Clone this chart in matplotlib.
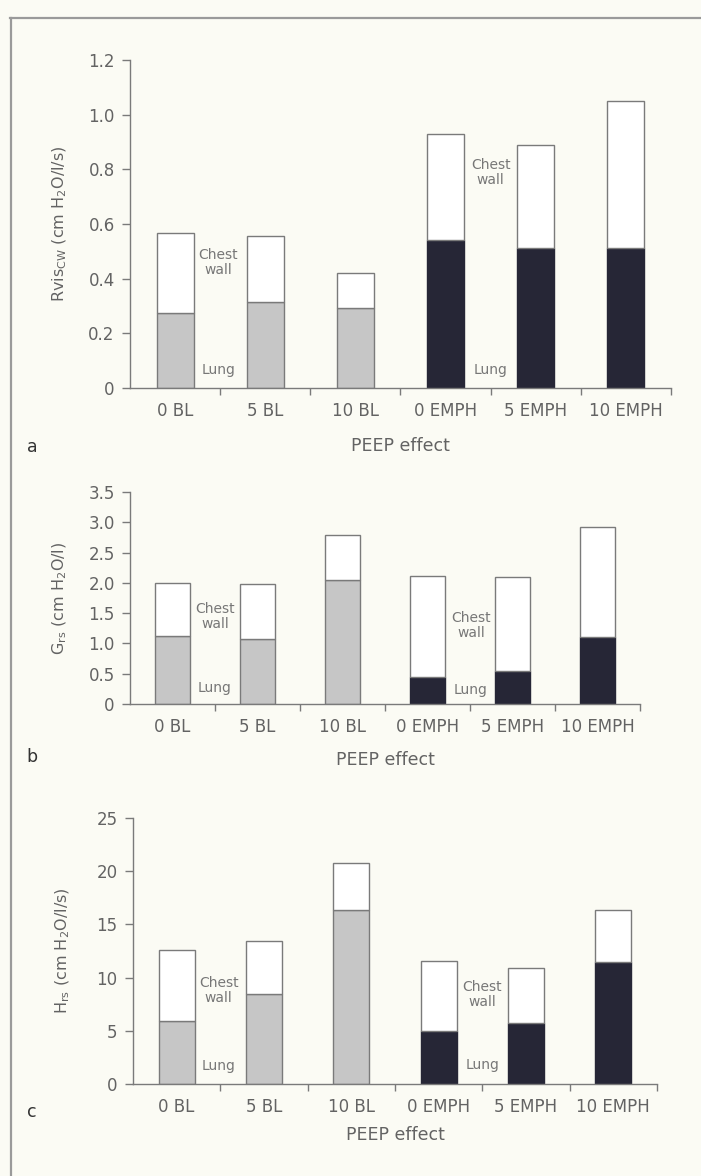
import matplotlib
matplotlib.use("Agg")
import matplotlib.pyplot as plt
from matplotlib.lines import Line2D
import numpy as np

plt.rcParams['font.family'] = ['DejaVu Sans']

# ---------------- data ----------------
categories = ["0 BL", "5 BL", "10 BL", "0 EMPH", "5 EMPH", "10 EMPH"]
is_emph = [False, False, False, True, True, True]

# panel a: Rvis_CW
a_lung  = [0.275, 0.315, 0.293, 0.542, 0.513, 0.513]
a_total = [0.568, 0.557, 0.420, 0.930, 0.890, 1.050]
a_ticks = [0, 0.2, 0.4, 0.6, 0.8, 1.0, 1.2]
a_ticklabels = ["0", "0.2", "0.4", "0.6", "0.8", "1.0", "1.2"]

# panel b: G_rs
b_lung  = [1.12, 1.07, 2.05, 0.45, 0.54, 1.10]
b_total = [2.00, 1.98, 2.79, 2.11, 2.09, 2.92]
b_ticks = [0, 0.5, 1.0, 1.5, 2.0, 2.5, 3.0, 3.5]
b_ticklabels = ["0", "0.5", "1.0", "1.5", "2.0", "2.5", "3.0", "3.5"]

# panel c: H_rs
c_lung  = [5.9, 8.5, 16.4, 5.0, 5.7, 11.5]
c_total = [12.6, 13.4, 20.8, 11.6, 10.9, 16.4]
c_ticks = [0, 5, 10, 15, 20, 25]
c_ticklabels = ["0", "5", "10", "15", "20", "25"]

# ---------------- style ----------------
BG = "#fbfbf4"
TXT = "#636363"
ANN = "#777777"
EDGE = "#7a7a7a"
GRAY = "#c6c6c6"
DARK = "#262636"

fig = plt.figure(figsize=(7.01, 11.76), dpi=100, facecolor=BG)
W, H = 701, 1176

def px_axes(left, right, top, bottom):
    return fig.add_axes([left / W, 1 - bottom / H, (right - left) / W, (bottom - top) / H])

panels = [
    dict(box=(130, 671, 60, 388), lung=a_lung, total=a_total, ticks=a_ticks,
         tl=a_ticklabels, ylabel=r"Rvis$_{\rm CW}$ (cm H$_2$O/l/s)", letter="a",
         ylab_x=60, xlab_y=446, let_y=447,
         ann=[(0.48, 0.46, 0.48, 0.066), (3.5, 0.79, 3.5, 0.066)]),
    dict(box=(130, 640, 492, 704), lung=b_lung, total=b_total, ticks=b_ticks,
         tl=b_ticklabels, ylabel=r"G$_{\rm rs}$ (cm H$_2$O/l)", letter="b",
         ylab_x=60, xlab_y=760, let_y=757,
         ann=[(0.5, 1.44, 0.5, 0.26), (3.51, 1.30, 3.51, 0.23)]),
    dict(box=(133, 657, 818, 1084), lung=c_lung, total=c_total, ticks=c_ticks,
         tl=c_ticklabels, ylabel=r"H$_{\rm rs}$ (cm H$_2$O/l/s)", letter="c",
         ylab_x=63, xlab_y=1135, let_y=1112,
         ann=[(0.48, 8.8, 0.48, 1.7), (3.5, 8.4, 3.5, 1.8)]),
]

x = np.arange(len(categories))
for p in panels:
    l, r, t, b = p["box"]
    ax = px_axes(l, r, t, b)
    ax.set_facecolor(BG)
    lung = np.array(p["lung"])
    total = np.array(p["total"])
    colors = [DARK if e else GRAY for e in is_emph]
    ax.bar(x, lung, width=0.41, color=colors, edgecolor=[DARK if e else EDGE for e in is_emph],
           linewidth=1.0, zorder=2)
    ax.bar(x, total - lung, bottom=lung, width=0.41, color="white", edgecolor=EDGE,
           linewidth=1.0, zorder=2)
    ax.set_xlim(-0.5, 5.5)
    ax.set_ylim(0, p["ticks"][-1])
    ax.set_yticks(p["ticks"])
    ax.set_yticklabels(p["tl"])
    ax.set_xticks(x)
    ax.set_xticklabels(categories)
    ax.set_xticks(np.arange(0.5, 6.0, 1.0), minor=True)
    ax.tick_params(axis="x", which="major", length=0, pad=10, labelsize=12, labelcolor=TXT)
    ax.tick_params(axis="x", which="minor", length=5, width=1, color=EDGE, direction="out")
    ax.tick_params(axis="y", length=6, width=1, color=EDGE, pad=5, labelsize=12, labelcolor=TXT)
    for s in ["top", "right"]:
        ax.spines[s].set_visible(False)
    for s in ["left", "bottom"]:
        ax.spines[s].set_color(EDGE)
        ax.spines[s].set_linewidth(1.0)
    ax.set_ylabel(p["ylabel"], fontsize=11.5, color=TXT, va="center")
    ax.yaxis.set_label_coords((p["ylab_x"] - l) / (r - l), 0.5)
    ax.set_xlabel("PEEP effect", fontsize=12.5, color=TXT, va="center")
    ax.xaxis.set_label_coords(0.5, -(p["xlab_y"] - b) / (b - t))
    for (cx, cy, lx, ly) in p["ann"]:
        ax.text(cx, cy, "Chest\nwall", ha="center", va="center", fontsize=10,
                color=ANN, linespacing=1.1, zorder=3)
        ax.text(lx, ly, "Lung", ha="center", va="center", fontsize=10, color=ANN, zorder=3)
    fig.text(32 / W, 1 - p["let_y"] / H, p["letter"], fontsize=12.5, color="#333333",
             ha="center", va="center")

# page frame lines (top and left)
fig.add_artist(Line2D([10 / W, 1.0], [1 - 18 / H, 1 - 18 / H], color="#9a9a9a", lw=1.6,
                      transform=fig.transFigure))
fig.add_artist(Line2D([11 / W, 11 / W], [0, 1 - 18 / H], color="#9a9a9a", lw=1.6,
                      transform=fig.transFigure))

fig.savefig("out.png", dpi=100, facecolor=BG)
